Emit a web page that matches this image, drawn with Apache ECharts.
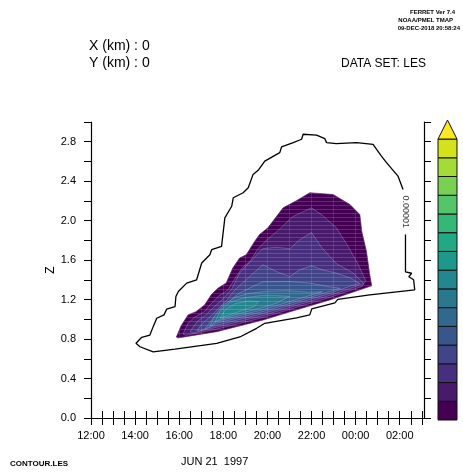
<!DOCTYPE html>
<html>
<head>
<meta charset="utf-8">
<script src="https://cdn.jsdelivr.net/npm/echarts@6/dist/echarts.min.js"></script>
<style>html,body{margin:0;padding:0;background:#fff}#c{width:463px;height:476px}</style>
</head>
<body>
<div id="c"></div>
<script>
// ---- tick labels ----
const xTickLabels = ['12:00','14:00','16:00','18:00','20:00','22:00','00:00','02:00'];
const yTickLabels = ['0.0','0.4','0.8','1.2','1.6','2.0','2.4','2.8'];

// ---- contour at 0.00001 (hours since 00:00 Jun 21, Z) ----
const outerContour = [
 [26.26,1.859],[26.26,1.482],[26.54,1.467],[26.41,1.431],[26.63,1.401],[26.68,1.299],
 [24.64,1.248],[23.19,1.202],[23.06,1.167],[22.01,1.106],[21.92,1.045],[21.32,1.014],
 [19.88,0.960],[19.51,0.909],[18.75,0.821],[17.70,0.757],[15.81,0.699],[14.82,0.671],
 [14.22,0.722],[14.04,0.757],[14.30,0.818],[14.67,0.841],[14.82,0.926],[14.98,1.011],
 [15.31,1.045],[15.43,1.103],[15.81,1.129],[15.85,1.231],[15.96,1.282],[16.34,1.367],
 [16.79,1.401],[17.02,1.571],[17.39,1.655],[17.47,1.706],[17.92,1.740],[18.07,2.028],
 [18.38,2.146],[18.45,2.232],[18.90,2.283],[19.13,2.334],[19.35,2.469],[19.58,2.510],
 [19.88,2.604],[20.56,2.690],[20.64,2.747],[21.17,2.791],[21.55,2.825],[21.62,2.876],
 [22.23,2.866],[22.60,2.832],[22.68,2.791],[23.13,2.781],[24.04,2.791],[24.79,2.774],
 [24.95,2.723],[25.17,2.655],[25.40,2.588],[25.92,2.452],[26.15,2.316]
];
const contourLabel = ['0.00001'];
const contourLabelAt = [26.26, 2.09];

// ---- filled contour levels, outermost first ----
const fillLevel1 = [
 [15.87,0.821],[16.08,0.933],[16.40,1.045],[16.76,1.078],[17.15,1.146],[17.45,1.248],
 [17.75,1.316],[18.13,1.367],[18.43,1.520],[18.74,1.622],[19.04,1.655],[19.42,1.790],
 [19.64,1.859],[20.02,1.927],[20.71,2.130],[21.33,2.204],[21.92,2.283],[22.98,2.265],
 [23.74,2.164],[24.19,2.062],[24.28,1.889],[24.49,1.689],[24.64,1.452],[24.73,1.340],
 [22.83,1.197],[21.32,1.096],[19.81,0.994],[17.70,0.875],[15.94,0.811]
];
const fillLevel2 = [
 [16.17,0.851],[16.40,0.963],[16.71,1.024],[17.12,1.075],[17.48,1.167],[17.80,1.238],
 [18.21,1.299],[18.57,1.431],[18.89,1.533],[19.20,1.584],[19.57,1.716],[19.93,1.798],
 [20.47,1.899],[21.15,2.042],[22.00,2.130],[22.51,2.052],[23.13,1.927],[23.64,1.747],
 [24.10,1.564],[24.46,1.391],[24.30,1.335],[22.83,1.222],[21.32,1.121],[19.81,1.019],
 [17.70,0.900],[16.30,0.838]
];
const fillLevel3 = [
 [16.49,0.875],[16.80,0.974],[17.21,1.045],[17.57,1.126],[17.94,1.197],[18.39,1.309],
 [18.75,1.472],[19.30,1.604],[19.79,1.716],[20.38,1.731],[21.02,1.716],[21.47,1.808],
 [22.00,1.879],[22.47,1.726],[23.13,1.564],[23.87,1.472],[24.37,1.365],[24.10,1.340],
 [22.83,1.242],[21.32,1.141],[19.81,1.039],[17.70,0.920],[16.62,0.862]
];
const fillLevel4 = [
 [16.80,0.885],[17.07,0.963],[17.44,1.035],[17.80,1.116],[18.21,1.208],[18.52,1.299],
 [18.98,1.391],[19.79,1.553],[20.43,1.482],[21.02,1.434],[21.47,1.503],[22.00,1.543],
 [22.47,1.503],[23.13,1.469],[23.74,1.421],[24.19,1.362],[23.80,1.340],[22.83,1.262],
 [21.32,1.161],[19.81,1.059],[17.70,0.940],[16.95,0.885]
];
const fillLevel5 = [
 [17.17,0.905],[17.44,0.984],[17.80,1.075],[18.21,1.167],[18.66,1.258],[19.20,1.319],
 [19.79,1.380],[20.93,1.384],[21.92,1.367],[22.83,1.330],[23.30,1.315],[22.83,1.282],
 [21.32,1.181],[19.81,1.079],[17.70,0.960],[17.30,0.915]
];
const fillLevel6 = [
 [17.40,0.935],[17.62,1.040],[18.02,1.150],[18.55,1.225],[19.20,1.265],[20.00,1.285],
 [20.90,1.290],[21.90,1.275],[22.50,1.280],[21.32,1.201],[19.81,1.099],[17.70,0.978],
 [17.50,0.950]
];
const fillLevel7 = [
 [17.62,0.975],[17.88,1.090],[18.30,1.175],[19.00,1.220],[19.70,1.240],[20.40,1.240],
 [21.00,1.232],[20.40,1.163],[19.81,1.122],[18.80,1.062],[17.80,0.995]
];
const fillLevel8 = [
 [17.85,1.015],[18.10,1.100],[18.55,1.160],[19.10,1.185],[19.60,1.180],[19.40,1.130],
 [18.80,1.085],[18.15,1.035]
];
const fillLevels = [fillLevel1,fillLevel2,fillLevel3,fillLevel4,fillLevel5,fillLevel6,fillLevel7,fillLevel8];

// ---- styles ----
const paletteColors = ['#440154','#481a6c','#472f7d','#414487','#39568c','#31688e','#2a788e','#23888e',
 '#1f988b','#22a884','#35b779','#54c568','#7ad151','#a5db36','#d2e21b','#fde725'];
const FONT = 'Liberation Sans, Arial, sans-serif';

// striped fill patterns (rendering texture of the original fill plot)
function makePattern(color){
  const c = document.createElement('canvas');
  c.width = 22; c.height = 4;
  const g = c.getContext('2d');
  g.fillStyle = color; g.fillRect(0,0,22,4);
  g.fillStyle = 'rgba(255,255,255,0.16)'; g.fillRect(0,1,22,1);
  g.fillStyle = 'rgba(255,255,255,0.12)'; g.fillRect(3,0,1,4);
  return {type:'pattern', image:c, repeat:'repeat'};
}
const fillPatterns = paletteColors.map(makePattern);

const chart = echarts.init(document.getElementById('c'), null, {renderer:'canvas'});

function xFmt(v){
  const k = (v - 12) / 2;
  if (Math.abs(k - Math.round(k)) < 1e-6 && Math.round(k) < xTickLabels.length) return xTickLabels[Math.round(k)];
  return '';
}
function yFmt(v){
  const k = v / 0.4;
  if (Math.abs(k - Math.round(k)) < 1e-6 && Math.round(k) < yTickLabels.length) return yTickLabels[Math.round(k)];
  return '';
}

const tickStyle = {show:true, inside:false, length:7, lineStyle:{color:'#000', width:1}};
const lineStyle = {show:true, lineStyle:{color:'#000', width:1.2}};

// colorbar (legend) built from palette
const cbX = 438, cbW = 19, cbBottom = 420, cbBoxH = 18.73;
const cbGraphics = [];
for (let i = 0; i < 15; i++) {
  cbGraphics.push({type:'rect', shape:{x:cbX, y:cbBottom-(i+1)*cbBoxH, width:cbW, height:cbBoxH},
    style:{fill:paletteColors[i], stroke:'#111', lineWidth:1}});
}
cbGraphics.push({type:'polygon', shape:{points:[[cbX,cbBottom-15*cbBoxH],[cbX+cbW,cbBottom-15*cbBoxH],[cbX+cbW/2,cbBottom-15*cbBoxH-19]]},
  style:{fill:paletteColors[15], stroke:'#111', lineWidth:1}});

const option = {
  animation:false,
  backgroundColor:'#fff',
  grid:{left:91, right:39, top:122, bottom:58, show:false},
  xAxis:[
    {type:'value', min:12, max:27.1, interval:0.5, position:'bottom',
     axisLine:lineStyle, axisTick:tickStyle, splitLine:{show:false},
     axisLabel:{formatter:xFmt, color:'#000', fontSize:11, fontFamily:FONT, margin:12, showMaxLabel:false}},
    {type:'value', min:12, max:27.1, interval:0.5, position:'top',
     axisLine:lineStyle, axisTick:tickStyle, splitLine:{show:false}, axisLabel:{show:false}}
  ],
  yAxis:[
    {type:'value', min:0, max:3.0, interval:0.2, position:'left',
     name:'Z', nameLocation:'middle', nameGap:34, nameRotate:90, nameMoveOverlap:false,
     nameTextStyle:{color:'#000', fontSize:12, fontFamily:FONT},
     axisLine:lineStyle, axisTick:tickStyle, splitLine:{show:false},
     axisLabel:{formatter:yFmt, color:'#000', fontSize:11, fontFamily:FONT, margin:15}},
    {type:'value', min:0, max:3.0, interval:0.2, position:'right',
     axisLine:lineStyle, axisTick:tickStyle, splitLine:{show:false}, axisLabel:{show:false}}
  ],
  series:[
    {type:'custom', coordinateSystem:'cartesian2d', z:2, clip:true,
     data: fillLevels.map((p,i)=>[p[0][0], p[0][1], i]),
     encode:{x:0, y:1},
     renderItem:function(params, api){
       const idx = api.value(2);
       const pts = fillLevels[idx].map(p=>api.coord(p));
       return {type:'polygon', shape:{points:pts},
         style:{fill:fillPatterns[idx], stroke: idx>0 ? 'rgba(220,200,240,0.35)' : 'rgba(90,30,110,0.8)', lineWidth:0.8}};
     }},
    {type:'line', data:outerContour, showSymbol:false, z:3, silent:true,
     lineStyle:{color:'#000', width:1.3}, itemStyle:{color:'#000'}},
    {type:'scatter', data:[contourLabelAt], symbolSize:0, z:4, silent:true,
     label:{show:true, formatter:contourLabel[0], rotate:-90, position:'inside', color:'#000',
       fontSize:9, fontFamily:FONT}}
  ],
  graphic:[
    {type:'text', left:89, top:39, style:{text:'X (km) : 0', fill:'#000', font:'14px '+FONT}},
    {type:'text', left:89, top:56, style:{text:'Y (km) : 0', fill:'#000', font:'14px '+FONT}},
    {type:'text', left:341, top:58, style:{text:'DATA SET: LES', fill:'#000', font:'12px '+FONT}},
    {type:'text', right:8, top:9, style:{text:'FERRET Ver 7.4', fill:'#000', font:'bold 6px '+FONT}},
    {type:'text', right:10, top:17, style:{text:'NOAA/PMEL TMAP', fill:'#000', font:'bold 6px '+FONT}},
    {type:'text', right:3, top:25, style:{text:'09-DEC-2018 20:58:24', fill:'#000', font:'bold 6px '+FONT}},
    {type:'text', left:181, top:456, style:{text:'JUN 21  1997', fill:'#000', font:'11px '+FONT}},
    {type:'text', left:10, top:460, style:{text:'CONTOUR.LES', fill:'#000', font:'bold 8px '+FONT}}
  ].concat(cbGraphics)
};
chart.setOption(option);
</script>
</body>
</html>
